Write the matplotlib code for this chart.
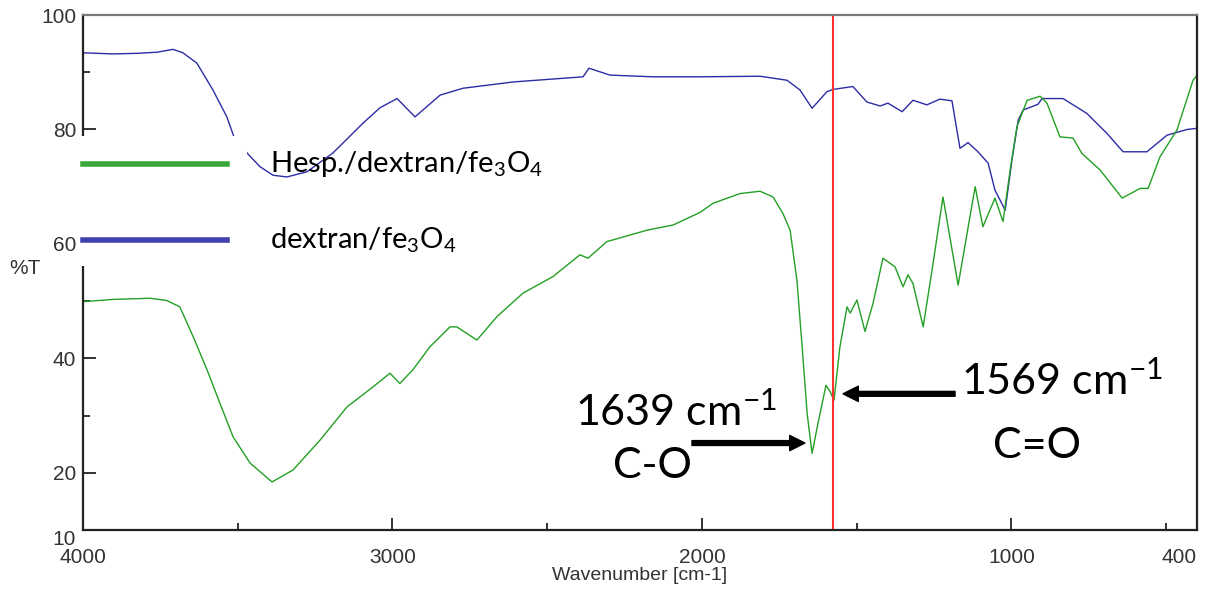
import numpy as np
import matplotlib
matplotlib.use("Agg")
import matplotlib.pyplot as plt
from matplotlib.patches import Rectangle
from matplotlib.lines import Line2D

plt.rcParams['mathtext.fontset'] = 'custom'
plt.rcParams['mathtext.rm'] = 'Lato'
plt.rcParams['mathtext.it'] = 'Lato:italic'
plt.rcParams['mathtext.bf'] = 'Lato:bold'

# dextran/fe3O4 (blue)
wn_blue = [4000, 3903, 3825, 3760, 3709, 3677, 3632, 3580, 3535, 3512, 3470, 3428,
           3386, 3341, 3276, 3192, 3095, 3040, 2985, 2927, 2846, 2772, 2610, 2384,
           2365, 2297, 2158, 2006, 1812, 1725, 1683, 1644, 1596, 1576, 1512, 1467,
           1424, 1399, 1353, 1318, 1273, 1231, 1192, 1166, 1140, 1108, 1075, 1053,
           1020, 998, 978, 962, 914, 901, 833, 756, 691, 639, 562, 497, 432, 400]
t_blue = [93.4, 93.2, 93.3, 93.5, 94.0, 93.4, 91.6, 86.9, 82.2, 78.7, 75.9, 73.5,
          72.0, 71.7, 72.6, 75.9, 81.1, 83.8, 85.4, 82.2, 86.0, 87.2, 88.3, 89.2,
          90.7, 89.5, 89.2, 89.2, 89.3, 88.6, 86.9, 83.7, 86.6, 87.0, 87.5, 84.8,
          84.1, 84.6, 83.1, 85.1, 84.3, 85.3, 85.0, 76.7, 77.7, 76.1, 74.1, 69.4,
          65.9, 74.7, 81.6, 83.4, 84.4, 85.4, 85.4, 82.8, 79.3, 76.1, 76.1, 79.0, 80.0, 80.2]

# Hesp./dextran/fe3O4 (green)
wn_green = [4000, 3903, 3783, 3729, 3687, 3644, 3599, 3557, 3515, 3460, 3389, 3321,
            3234, 3147, 3063, 3008, 2976, 2934, 2879, 2814, 2792, 2727, 2662, 2578,
            2481, 2394, 2368, 2307, 2177, 2093, 2006, 1964, 1877, 1812, 1770, 1738,
            1715, 1693, 1676, 1660, 1644, 1625, 1599, 1586, 1573, 1554, 1531, 1521,
            1499, 1473, 1447, 1415, 1376, 1350, 1334, 1318, 1285, 1253, 1221, 1172,
            1117, 1092, 1053, 1027, 1004, 982, 949, 907, 885, 843, 801, 772, 713,
            642, 584, 558, 520, 465, 413, 400]
t_green = [49.9, 50.3, 50.5, 50.1, 49.0, 43.8, 38.0, 32.1, 26.3, 21.7, 18.4, 20.5,
           25.7, 31.5, 35.0, 37.4, 35.6, 38.0, 42.0, 45.5, 45.5, 43.2, 47.3, 51.4,
           54.3, 58.1, 57.5, 60.4, 62.4, 63.3, 65.5, 67.1, 68.8, 69.2, 68.2, 65.3,
           62.4, 53.7, 42.0, 30.4, 23.4, 28.6, 35.3, 34.2, 32.7, 42.0, 49.0, 47.9,
           50.2, 44.7, 49.6, 57.5, 56.0, 52.5, 54.6, 53.1, 45.5, 56.6, 68.2, 52.8,
           70.0, 63.0, 68.0, 63.9, 72.9, 80.5, 85.1, 85.8, 84.6, 78.7, 78.5, 75.8, 72.9,
           68.0, 69.7, 69.7, 75.2, 79.9, 88.6, 89.5]

marker_wn = 1576
labels = ['Hesp./dextran/fe$_3$O$_4$', 'dextran/fe$_3$O$_4$']
colors = ['#239f23', '#2c2ca6']

x_major = [4000, 3000, 2000, 1000, 400]
x_minor = [3500, 2500, 1500, 500]
y_major = [10, 20, 40, 60, 80, 100]
y_minor = [30, 50, 70, 90]

tick_font = ['Liberation Sans Narrow', 'Liberation Sans', 'DejaVu Sans']

fig = plt.figure(figsize=(12.18, 5.91), dpi=100)
ax = fig.add_axes([0.0681, 0.1032, 0.9147, 0.8714])

ax.plot(wn_blue, t_blue, color=colors[1], lw=1.0)
ax.plot(wn_green, t_green, color=colors[0], lw=1.0)
ax.axvline(marker_wn, color='#ff3030', lw=1.5)

ax.set_xlim(4000, 400)
ax.set_ylim(10, 100)
ax.set_xticks(x_major)
ax.set_xticks(x_minor, minor=True)
ax.set_yticks(y_major)
ax.set_yticks(y_minor, minor=True)
ax.tick_params(which='major', direction='in', length=9, width=1.3, colors='#222')
ax.tick_params(which='minor', direction='in', length=5, width=1.3, colors='#222')
ax.tick_params(axis='x', which='major', pad=13)
ax.tick_params(axis='y', which='major', pad=5)
for lab in ax.get_xticklabels() + ax.get_yticklabels():
    lab.set_family(tick_font)
    lab.set_fontsize(15)
    lab.set_color('#333')
ax.get_xticklabels()[-1].set_horizontalalignment('right')
ax.get_yticklabels()[0].set_verticalalignment('top')
for s in ax.spines.values():
    s.set_color('#222')
    s.set_linewidth(1.6)
ax.spines['top'].set_color('#777')

ax.set_xlabel('Wavenumber [cm-1]', family=tick_font, fontsize=14, color='#333', labelpad=0)
fig.text(0.008, 0.546, '%T', family=tick_font, fontsize=15, color='#333', va='center')

# annotations
ann_font = dict(family=['Lato', 'DejaVu Sans'], fontsize=31, color='black')
arrow = dict(arrowstyle='simple,head_length=1.1,head_width=1.1,tail_width=0.35',
             color='black', shrinkA=0, shrinkB=0)
ax.annotate('', xy=(1667, 25.2), xytext=(2032, 25.2), arrowprops=arrow)
ax.annotate('', xy=(1544, 33.8), xytext=(1182, 33.8), arrowprops=arrow)
ax.text(2084, 28.3, '1639 cm$^{-1}$', ha='center', va='baseline', **ann_font)
ax.text(2161, 19.1, 'C-O', ha='center', va='baseline', **ann_font)
ax.text(836, 33.6, '1569 cm$^{-1}$', ha='center', va='baseline', **ann_font)
ax.text(917, 22.6, 'C=O', ha='center', va='baseline', **ann_font)

# white legend patch covering the left part of the axis
fig.add_artist(Rectangle((77 / 1218, 1 - 266 / 591), 170 / 1218, 130 / 591,
                         transform=fig.transFigure, facecolor='white',
                         edgecolor='none', zorder=2))
for i, (lab, c) in enumerate(zip(labels, colors)):
    yy = 1 - (164 + 76 * i) / 591
    fig.add_artist(Line2D([83 / 1218, 227 / 1218], [yy, yy], color=c, lw=4,
                          alpha=0.9, transform=fig.transFigure, zorder=3))
    fig.text(270 / 1218, yy, lab, family=['Lato', 'DejaVu Sans'], fontsize=21,
             va='center', zorder=3)

fig.savefig('out.png', dpi=100, facecolor='white')
